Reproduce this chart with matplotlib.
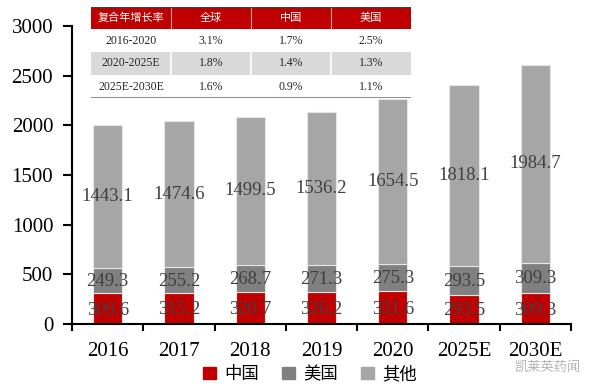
import numpy as np
import matplotlib.pyplot as plt
from matplotlib.patches import Rectangle, Patch

# data
years = ['2016', '2017', '2018', '2019', '2020', '2025E', '2030E']
china = [309.6, 315.2, 320.7, 326.2, 331.6, 293.5, 309.3]
usa = [249.3, 255.2, 268.7, 271.3, 275.3, 293.5, 309.3]
other = [1443.1, 1474.6, 1499.5, 1536.2, 1654.5, 1818.1, 1984.7]
series_names = ['中国', '美国', '其他']

# CAGR table
table_header = ['复合年增长率', '全球', '中国', '美国']
table_periods = ['2016-2020', '2020-2025E', '2025E-2030E']
cagr_global = ['3.1%', '1.8%', '1.6%']
cagr_china = ['1.7%', '1.4%', '0.9%']
cagr_usa = ['2.5%', '1.3%', '1.1%']

RED = '#C00000'
DARK = '#808080'
LIGHT = '#A6A6A6'
SERIF = ['Liberation Serif', 'Noto Sans CJK SC']
CJK = ['Noto Sans CJK SC', 'DejaVu Sans']

W, H = 604, 392
fig = plt.figure(figsize=(W / 100, H / 100), dpi=100)
ax = fig.add_axes([72 / W, 1 - 324 / H, (571 - 72) / W, (324 - 26) / H])

x = np.arange(len(years))
bw = 0.41
china_arr = np.array(china)
usa_arr = np.array(usa)
other_arr = np.array(other)

ax.bar(x, china_arr, bw, color=RED, edgecolor='#e6e6e6', linewidth=0.8, zorder=2)
ax.bar(x, usa_arr, bw, bottom=china_arr, color=DARK, edgecolor='#e6e6e6', linewidth=0.8, zorder=2)
ax.bar(x, other_arr, bw, bottom=china_arr + usa_arr, color=LIGHT, edgecolor='#e6e6e6', linewidth=0.8, zorder=2)

# value labels in the middle of each segment
for i in range(len(years)):
    segs = [(china_arr[i] / 2 - 15, china[i]),
            (china_arr[i] + usa_arr[i] / 2 - 10, usa[i]),
            (china_arr[i] + usa_arr[i] + other_arr[i] / 2, other[i])]
    for yv, v in segs:
        ax.text(x[i], yv, f'{v:.1f}', ha='center', va='center', fontsize=13.5,
                family=SERIF, color='#404040', zorder=3)

ax.set_xlim(-0.5, len(years) - 0.5)
ax.set_ylim(0, 3000)
ax.set_yticks(np.arange(0, 3001, 500))
ax.set_xticks(x)
ax.set_xticklabels(years, family=SERIF, fontsize=15)
ax.set_xticks(np.arange(-0.5, len(years), 1), minor=True)
ax.tick_params(axis='x', which='major', length=0, pad=13)
ax.tick_params(axis='x', which='minor', length=5, width=1.5, direction='out')
ax.tick_params(axis='y', length=6.5, width=1.5, direction='out', pad=7)
for lab in ax.get_yticklabels():
    lab.set_family(SERIF)
    lab.set_fontsize(15)
for s in ['top', 'right']:
    ax.spines[s].set_visible(False)
for s in ['left', 'bottom']:
    ax.spines[s].set_linewidth(1.5)

# CAGR table drawn on top of the plot
tax = fig.add_axes([91 / W, 1 - 98 / H, 320 / W, 91 / H])
tax.set_xlim(0, 320)
tax.set_ylim(91, 0)
tax.axis('off')
col_w = 80
row_h = [22, 23, 23, 23]
row_y = np.cumsum([0] + row_h)
tax.add_patch(Rectangle((0, 0), 320, row_h[0], color=RED, lw=0))
tax.add_patch(Rectangle((0, row_y[2]), 320, row_h[2], color='#D9D9D9', lw=0))
for c in range(1, 4):
    tax.plot([c * col_w, c * col_w], [0, row_y[1]], color='#e39a9a', lw=0.8)
    tax.plot([c * col_w, c * col_w], [row_y[2], row_y[3]], color='white', lw=1.2)
tax.plot([0, 320], [0, 0], color='#404040', lw=1)
tax.plot([0, 320], [91, 91], color='#808080', lw=2)
for c, h in enumerate(table_header):
    tax.text(c * col_w + col_w / 2, row_h[0] / 2, h, ha='center', va='center',
             fontsize=8, family=CJK, color='white', fontweight='medium')
columns = [table_periods, cagr_global, cagr_china, cagr_usa]
for c, col in enumerate(columns):
    for r, val in enumerate(col):
        tax.text(c * col_w + col_w / 2, (row_y[r + 1] + row_y[r + 2]) / 2, val,
                 ha='center', va='center', fontsize=8.5, family=SERIF,
                 color='#262626')

# legend
handles = [Patch(color=RED), Patch(color=DARK), Patch(color=LIGHT)]
fig.legend(handles, series_names, loc='center', bbox_to_anchor=(310 / W, 1 - 374 / H),
           ncol=3, frameon=False, prop={'family': CJK, 'size': 12.5},
           handlelength=0.75, handleheight=0.75, handletextpad=0.5, columnspacing=1.3)

# watermark
fig.text(548 / W, 1 - 367 / H, '凯莱英药闻', ha='center', va='center',
         family=CJK, fontsize=9.5, color='#b5b5b5')

fig.savefig('out.png', dpi=100)
